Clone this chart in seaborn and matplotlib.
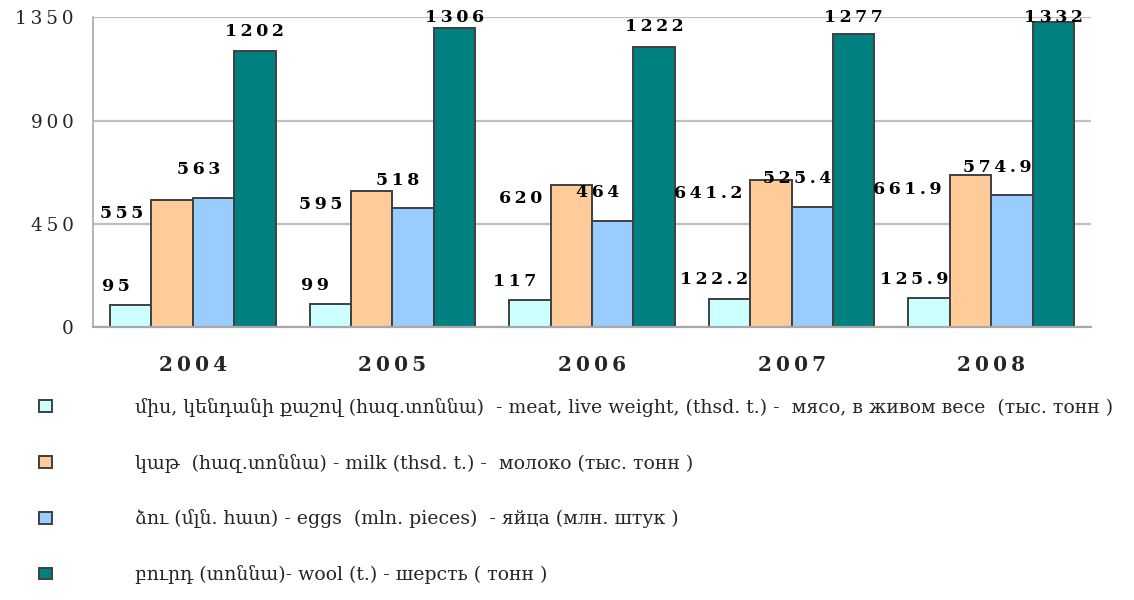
import numpy as np
import pandas as pd
import matplotlib
matplotlib.use("Agg")
import matplotlib.pyplot as plt
import seaborn as sns

# =========================
# DATA
# =========================

years = ["2004", "2005", "2006", "2007", "2008"]

meat = [95, 99, 117, 122.2, 125.9]
milk = [555, 595, 620, 641.2, 661.9]
eggs = [563, 518, 464, 525.4, 574.9]
wool = [1202, 1306, 1222, 1277, 1332]

series_names = [
    "միս, կենդանի քաշով (հազ.տոննա)  - meat, live weight, (thsd. t.) -  мясо, в живом весе  (тыс. тонн )",
    "կաթ  (հազ.տոննա) - milk (thsd. t.) -  молоко (тыс. тонн )",
    "ձու (մլն. հատ) - eggs  (mln. pieces)  - яйца (млн. штук )",
    "բուրդ (տոննա)- wool (t.) - шерсть ( тонн )",
]

series_colors = ["#CCFFFF", "#FFCC99", "#99CCFF", "#008080"]

y_ticks = [0, 450, 900, 1350]

# =========================
# LONG TABLE
# =========================

df = pd.DataFrame({
    "year": years * 4,
    "value": meat + milk + eggs + wool,
    "series": [s for s in series_names for _ in years],
})

# =========================
# STYLE
# =========================

sns.set_style("white")
plt.rcParams["font.family"] = ["DejaVu Serif", "DejaVu Sans"]

fig = plt.figure(figsize=(11.34, 6), dpi=100)
ax = fig.add_axes([93 / 1134, 273 / 600, 998 / 1134, 309.5 / 600])

sns.barplot(
    data=df, x="year", y="value", hue="series",
    hue_order=series_names, order=years,
    palette=series_colors, width=0.83, gap=0,
    edgecolor="#404040", linewidth=1.4, saturation=1,
    ax=ax,
)

ax.set_ylim(0, 1350)
ax.set_xlim(-0.5, 4.5)
ax.set_xlabel("")
ax.set_ylabel("")

# grid + spines
ax.set_axisbelow(True)
ax.yaxis.grid(True, color="#c0c0c0", linewidth=1.6)
for side in ["top", "right"]:
    ax.spines[side].set_visible(False)
ax.spines["left"].set_color("#a8a8a8")
ax.spines["bottom"].set_color("#a8a8a8")
ax.spines["left"].set_linewidth(1.2)
ax.spines["bottom"].set_linewidth(1.6)

# y ticks
ax.set_yticks(y_ticks)
ax.set_yticklabels(["\u2009".join(str(t)) for t in y_ticks], fontsize=13.3)
ax.tick_params(axis="y", length=6, width=1.2, color="#a8a8a8", pad=8)

# x ticks: labels at centers, marks at boundaries
ax.set_xticks(range(len(years)))
ax.set_xticklabels(["\u2009".join(y) for y in years], fontsize=14.5, fontweight="bold")
ax.set_xticks(np.arange(-0.5, len(years), 1), minor=True)
ax.tick_params(axis="x", which="major", length=0, pad=20)
ax.tick_params(axis="x", which="minor", length=6, width=1.2, color="#a8a8a8")

# =========================
# DATA LABELS
# =========================

px_x = 1 / 199.6
px_y = 1350 / 309.5

label_kw = dict(fontsize=12.5, fontweight="bold", color="black", va="center")

for i, container in enumerate(ax.containers):
    for bar in container:
        v = bar.get_height()
        txt = "\u2009".join(f"{v:g}")
        left = bar.get_x()
        cx = left + bar.get_width() / 2
        if i == 0:
            ax.text(cx - 15 * px_x, v + 19 * px_y, txt, ha="center", **label_kw)
        elif i == 1:
            ax.text(left - 8 * px_x, v - 14 * px_y, txt, ha="right", **label_kw)
        elif i == 2:
            ax.text(cx - 15 * px_x, v + 28 * px_y, txt, ha="center", **label_kw)
        else:
            ax.text(cx, min(v + 20 * px_y, 1350), txt, ha="center", **label_kw)

# =========================
# LEGEND
# =========================

sns.move_legend(
    ax, loc="upper left",
    bbox_to_anchor=(39 / 1134, 1 - 398 / 600),
    bbox_transform=fig.transFigure,
    title=None, frameon=False,
    prop={"family": ["DejaVu Serif", "DejaVu Sans"], "size": 13.6},
    handlelength=0.7, handleheight=0.58,
    handletextpad=4.4, labelspacing=1.95,
    borderaxespad=0, borderpad=0,
)

fig.savefig("out.png", dpi=100)
